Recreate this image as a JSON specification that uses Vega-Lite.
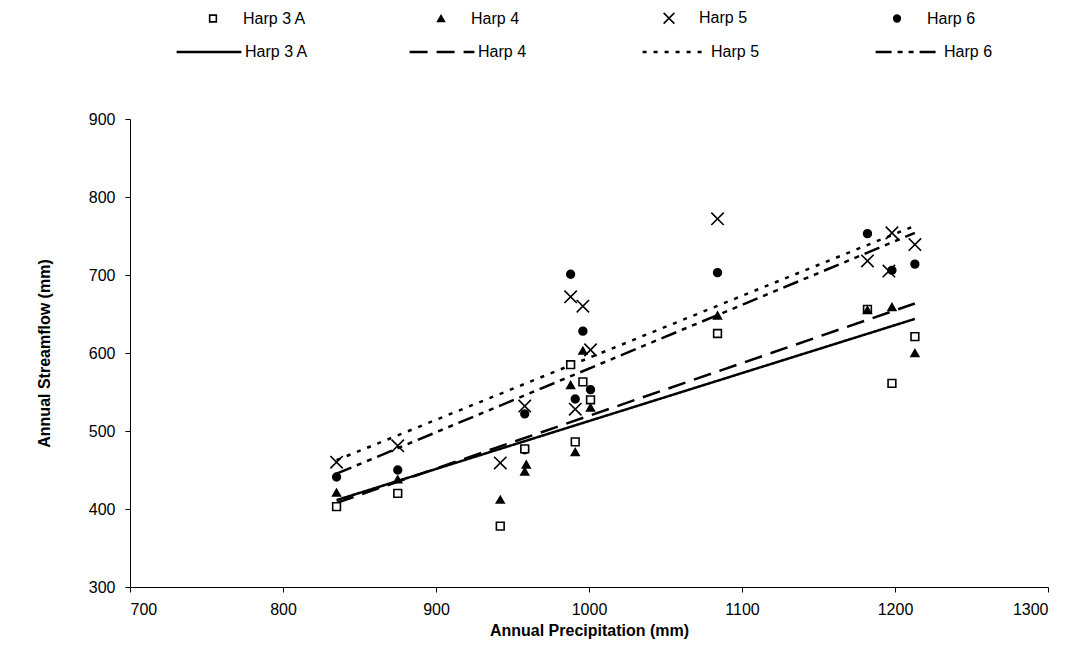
{
  "$schema": "https://vega.github.io/schema/vega-lite/v6.json",
  "width": 918,
  "height": 468,
  "autosize": {"type": "none"},
  "padding": {"left": 130, "top": 119, "right": 31, "bottom": 80},
  "background": "white",
  "config": {
    "font": "Liberation Sans",
    "view": {"stroke": null},
    "axis": {
      "grid": false,
      "domainColor": "black",
      "tickColor": "black",
      "labelColor": "black",
      "titleColor": "black",
      "labelFont": "Liberation Sans",
      "titleFont": "Liberation Sans",
      "labelFontSize": 16,
      "titleFontSize": 16,
      "titleFontWeight": "bold",
      "tickSize": 5
    },
    "legend": {
      "labelFont": "Liberation Sans",
      "labelFontSize": 16,
      "labelColor": "black"
    }
  },
  "data": {
    "values": [
      {"site": "Harp 3 A", "precip": 835, "flow": 403},
      {"site": "Harp 4", "precip": 835, "flow": 421},
      {"site": "Harp 5", "precip": 835, "flow": 460},
      {"site": "Harp 6", "precip": 835, "flow": 441},
      {"site": "Harp 3 A", "precip": 875, "flow": 420},
      {"site": "Harp 4", "precip": 875, "flow": 438},
      {"site": "Harp 5", "precip": 875, "flow": 481},
      {"site": "Harp 6", "precip": 875, "flow": 450},
      {"site": "Harp 3 A", "precip": 942, "flow": 378},
      {"site": "Harp 4", "precip": 942, "flow": 412},
      {"site": "Harp 5", "precip": 942, "flow": 459},
      {"site": "Harp 6", "precip": 958, "flow": 476},
      {"site": "Harp 3 A", "precip": 958, "flow": 477},
      {"site": "Harp 4", "precip": 958, "flow": 448},
      {"site": "Harp 4", "precip": 959, "flow": 457},
      {"site": "Harp 5", "precip": 958, "flow": 532},
      {"site": "Harp 6", "precip": 958, "flow": 522},
      {"site": "Harp 3 A", "precip": 988, "flow": 585},
      {"site": "Harp 4", "precip": 988, "flow": 559},
      {"site": "Harp 5", "precip": 988, "flow": 672},
      {"site": "Harp 6", "precip": 988, "flow": 701},
      {"site": "Harp 3 A", "precip": 991, "flow": 486},
      {"site": "Harp 4", "precip": 991, "flow": 473},
      {"site": "Harp 5", "precip": 991, "flow": 528},
      {"site": "Harp 6", "precip": 991, "flow": 541},
      {"site": "Harp 3 A", "precip": 996, "flow": 563},
      {"site": "Harp 4", "precip": 996, "flow": 603},
      {"site": "Harp 5", "precip": 996, "flow": 660},
      {"site": "Harp 6", "precip": 996, "flow": 628},
      {"site": "Harp 3 A", "precip": 1001, "flow": 540},
      {"site": "Harp 4", "precip": 1001, "flow": 530},
      {"site": "Harp 5", "precip": 1001, "flow": 604},
      {"site": "Harp 6", "precip": 1001, "flow": 553},
      {"site": "Harp 3 A", "precip": 1084, "flow": 625},
      {"site": "Harp 4", "precip": 1084, "flow": 648},
      {"site": "Harp 5", "precip": 1084, "flow": 772},
      {"site": "Harp 6", "precip": 1084, "flow": 703},
      {"site": "Harp 3 A", "precip": 1182, "flow": 656},
      {"site": "Harp 4", "precip": 1182, "flow": 655},
      {"site": "Harp 5", "precip": 1182, "flow": 718},
      {"site": "Harp 6", "precip": 1182, "flow": 753},
      {"site": "Harp 3 A", "precip": 1198, "flow": 561},
      {"site": "Harp 4", "precip": 1198, "flow": 659},
      {"site": "Harp 5", "precip": 1198, "flow": 754},
      {"site": "Harp 5", "precip": 1196, "flow": 705},
      {"site": "Harp 6", "precip": 1198, "flow": 706},
      {"site": "Harp 3 A", "precip": 1213, "flow": 621},
      {"site": "Harp 4", "precip": 1213, "flow": 600},
      {"site": "Harp 5", "precip": 1213, "flow": 739},
      {"site": "Harp 6", "precip": 1213, "flow": 714}
    ]
  },
  "encoding": {
    "x": {
      "field": "precip",
      "type": "quantitative",
      "scale": {"domain": [700, 1300], "nice": false, "zero": false},
      "axis": {"title": "Annual Precipitation (mm)", "format": "d", "values": [700, 800, 900, 1000, 1100, 1200, 1300], "labelPadding": 9, "titlePadding": 5}
    },
    "y": {
      "field": "flow",
      "type": "quantitative",
      "scale": {"domain": [300, 900], "nice": false, "zero": false},
      "axis": {"title": "Annual Streamflow (mm)", "format": "d", "values": [300, 400, 500, 600, 700, 800, 900], "labelPadding": 10, "titlePadding": 36}
    }
  },
  "layer": [
    {
      "transform": [
        {"regression": "flow", "on": "precip", "groupby": ["site"]}
      ],
      "mark": {"type": "line", "color": "black", "strokeWidth": 2.5},
      "encoding": {
        "strokeDash": {
          "field": "site",
          "type": "nominal",
          "scale": {"range": [[1, 0], [18, 9], [4, 7], [16, 6, 5, 6, 5, 6]]},
          "legend": {
            "title": null,
            "orient": "none",
            "legendX": 45,
            "legendY": -101,
            "direction": "horizontal",
            "columns": 4,
            "gridAlign": "all",
            "columnPadding": 95,
            "symbolType": "stroke",
            "symbolSize": 4200,
            "symbolStrokeWidth": 2.5,
            "symbolStrokeColor": "black",
            "labelOffset": 2
          }
        }
      }
    },
    {
      "mark": {"type": "point", "filled": false, "strokeWidth": 1.6, "opacity": 1, "size": 60},
      "encoding": {
        "shape": {
          "field": "site",
          "type": "nominal",
          "scale": {"range": ["square", "triangle-up", "M-1.6,-1.6L1.6,1.6M1.6,-1.6L-1.6,1.6", "circle"]},
          "legend": {
            "title": null,
            "orient": "none",
            "legendX": 75,
            "legendY": -109,
            "direction": "horizontal",
            "columns": 4,
            "gridAlign": "all",
            "columnPadding": 125,
            "labelOffset": 22,
            "symbolSize": 45,
            "symbolStrokeWidth": 1.6
          }
        },
        "fill": {
          "field": "site",
          "type": "nominal",
          "scale": {"range": ["white", "black", "transparent", "black"]},
          "legend": {
            "title": null,
            "orient": "none",
            "legendX": 75,
            "legendY": -109,
            "direction": "horizontal",
            "columns": 4,
            "gridAlign": "all",
            "columnPadding": 125,
            "labelOffset": 22,
            "symbolSize": 45,
            "symbolStrokeWidth": 1.6
          }
        },
        "stroke": {
          "field": "site",
          "type": "nominal",
          "scale": {"range": ["black", "black", "black", "black"]},
          "legend": {
            "title": null,
            "orient": "none",
            "legendX": 75,
            "legendY": -109,
            "direction": "horizontal",
            "columns": 4,
            "gridAlign": "all",
            "columnPadding": 125,
            "labelOffset": 22,
            "symbolSize": 45,
            "symbolStrokeWidth": 1.6
          }
        }
      }
    }
  ]
}
